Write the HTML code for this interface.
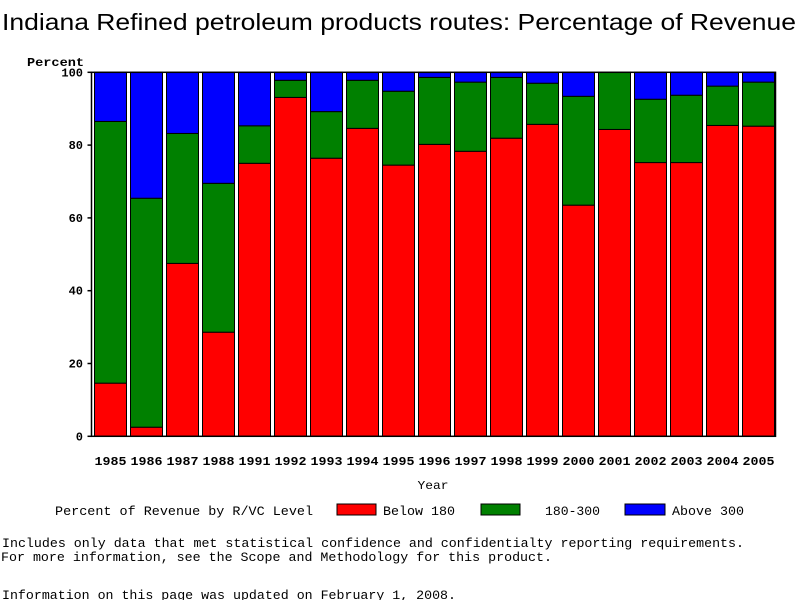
<!DOCTYPE html>
<html><head><meta charset="utf-8"><style>
body{margin:0;background:#fff;}
svg text{font-family:"Liberation Mono",monospace;fill:#000;}
</style></head><body>
<svg id="chart" width="800" height="600" xmlns="http://www.w3.org/2000/svg">
<text x="2" y="30" style="font-family:'Liberation Sans',sans-serif;font-size:23px" textLength="794" lengthAdjust="spacingAndGlyphs">Indiana Refined petroleum products routes: Percentage of Revenue</text>
<text x="27" y="66" font-size="12" font-weight="bold" textLength="57" lengthAdjust="spacingAndGlyphs">Percent</text>
<g id="bars"></g>
<g id="axes"></g>
<text x="433" y="489" font-size="12" text-anchor="middle" textLength="31" lengthAdjust="spacingAndGlyphs">Year</text>
<text x="55" y="515" font-size="13" textLength="258" lengthAdjust="spacingAndGlyphs">Percent of Revenue by R/VC Level</text>
<rect x="337" y="504" width="39" height="11" fill="#ff0000" stroke="#000"/>
<text x="383" y="515" font-size="13" textLength="72" lengthAdjust="spacingAndGlyphs">Below 180</text>
<rect x="481" y="504" width="39" height="11" fill="#008000" stroke="#000"/>
<text x="545" y="515" font-size="13" textLength="55" lengthAdjust="spacingAndGlyphs">180-300</text>
<rect x="625" y="504" width="40" height="11" fill="#0000ff" stroke="#000"/>
<text x="672" y="515" font-size="13" textLength="72" lengthAdjust="spacingAndGlyphs">Above 300</text>
<text x="2" y="547" font-size="13" textLength="742" lengthAdjust="spacingAndGlyphs">Includes only data that met statistical confidence and confidentialty reporting requirements.</text>
<text x="1" y="561" font-size="13" textLength="551" lengthAdjust="spacingAndGlyphs">For more information, see the Scope and Methodology for this product.</text>
<text x="2" y="599" font-size="13" textLength="454" lengthAdjust="spacingAndGlyphs">Information on this page was updated on February 1, 2008.</text>
</svg>
<script>
const years=["1985","1986","1987","1988","1991","1992","1993","1994","1995","1996","1997","1998","1999","2000","2001","2002","2003","2004","2005"];
const below180=[14.6,2.5,47.5,28.6,75.0,93.1,76.4,84.6,74.5,80.2,78.3,81.9,85.7,63.5,84.3,75.2,75.2,85.4,85.2];
const mid180to300=[71.9,62.9,35.7,40.9,10.3,4.7,12.8,13.2,20.3,18.4,19.0,16.7,11.3,29.9,15.7,17.4,18.5,10.8,12.1];
const above300=[13.5,34.6,16.8,30.5,14.7,2.2,10.8,2.2,5.2,1.4,2.7,1.4,3.0,6.6,0,7.4,6.3,3.8,2.7];
const yTicks=[0,20,40,60,80,100];
const NS="http://www.w3.org/2000/svg";
const x0=91.5,x1=775.5,yTop=72.3,yBot=436.3;
const pitch=(x1-x0)/years.length;
function yScale(v){return yBot-(v/100)*(yBot-yTop);}
function xScale(i){return x0+i*pitch+3;}
const bw=pitch-4;
const bars=document.getElementById('bars');
const axes=document.getElementById('axes');
function mk(tag,attrs,parent){const e=document.createElementNS(NS,tag);for(const k in attrs)e.setAttribute(k,attrs[k]);parent.appendChild(e);return e;}
const series=[[below180,"#ff0000","below-180"],[mid180to300,"#008000","180-300"],[above300,"#0000ff","above-300"]];
years.forEach((yr,i)=>{
  let cum=0;
  series.forEach(([arr,col,nm])=>{
    const v=arr[i];
    const r=mk('rect',{x:xScale(i),y:yScale(cum+v),width:bw,height:yScale(cum)-yScale(cum+v),fill:col,stroke:"#000","stroke-width":1},bars);
    
    
    cum+=v;
  });
  const t=mk('text',{x:xScale(i)+bw/2,y:465,"font-size":12,"font-weight":"bold","text-anchor":"middle",textLength:32,lengthAdjust:"spacingAndGlyphs"},axes);
  t.textContent=yr;
  
  
});
const frame=mk('rect',{x:x0,y:yTop,width:x1-x0,height:yBot-yTop,fill:"none",stroke:"#000","stroke-width":1.5},axes);


yTicks.forEach(v=>{
  const y=yScale(v);
  const l=mk('line',{x1:x0-4,x2:x0,y1:y,y2:y,stroke:"#000","stroke-width":1.5},axes);
  
  
  const t=mk('text',{x:83,y:y+4,"font-size":12,"font-weight":"bold","text-anchor":"end"},axes);
  t.textContent=String(v);
  
  
});
</script>
</body></html>
